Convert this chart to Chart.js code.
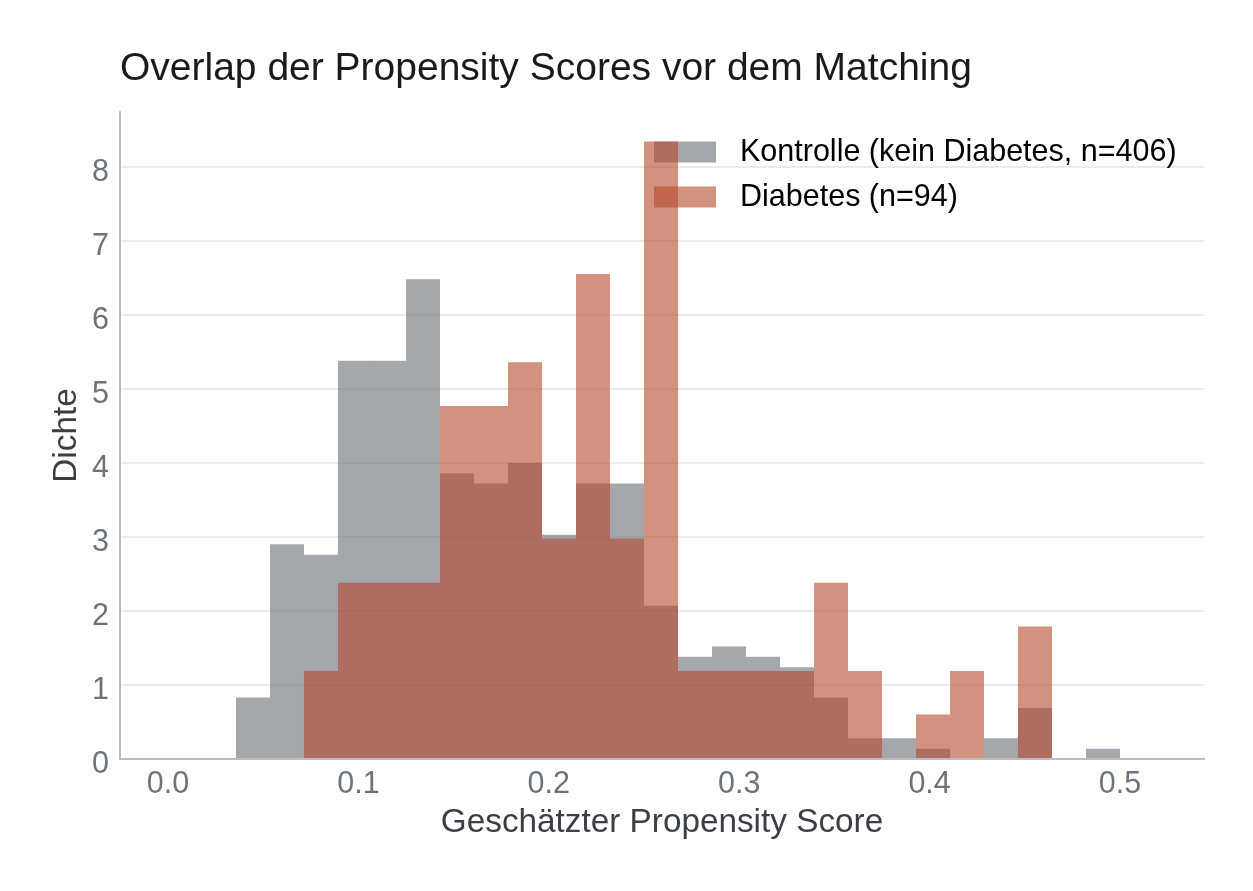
<!DOCTYPE html>
<html>
<head>
<meta charset="utf-8">
<script src="https://cdn.jsdelivr.net/npm/chart.js@4"></script>
<style>
  html, body { margin: 0; padding: 0; background: #fff; }
  #wrap { width: 1253px; height: 891px; }
</style>
</head>
<body>
<div id="wrap"><canvas id="histChart" width="1253" height="891"></canvas></div>
<script>
// bin centres (propensity score), bin width ~0.017857
var binCenters = [0.044643, 0.0625, 0.080357, 0.098214, 0.116071, 0.133929, 0.151786,
  0.169643, 0.1875, 0.205357, 0.223214, 0.241071, 0.258929, 0.276786, 0.294643,
  0.3125, 0.330357, 0.348214, 0.366071, 0.383929, 0.401786, 0.419643, 0.4375,
  0.455357, 0.473214, 0.491071];

// density, Kontrolle (n=406)
var kontrolle = [0.83, 2.90, 2.76, 5.38, 5.38, 6.48, 3.86, 3.72, 4.00, 3.03, 3.72, 3.72,
  2.07, 1.38, 1.52, 1.38, 1.24, 0.83, 0.28, 0.28, 0.14, 0.00, 0.28, 0.69, 0.00, 0.14];

// density, Diabetes (n=94)
var diabetes = [0.00, 0.00, 1.19, 2.38, 2.38, 2.38, 4.77, 4.77, 5.36, 2.98, 6.55, 2.98,
  8.34, 1.19, 1.19, 1.19, 1.19, 2.38, 1.19, 0.00, 0.60, 1.19, 0.00, 1.79, 0.00, 0.00];

var xTicks = [0.0, 0.1, 0.2, 0.3, 0.4, 0.5];
var yTicks = [0, 1, 2, 3, 4, 5, 6, 7, 8];

var labels = ['Kontrolle (kein Diabetes, n=406)', 'Diabetes (n=94)'];
var title = 'Overlap der Propensity Scores vor dem Matching';

var grayFill = 'rgba(103, 110, 118, 0.6)';
var redFill = 'rgba(182, 72, 43, 0.6)';
var fontFamily = '"Liberation Sans", Arial, Helvetica, sans-serif';

function toPoints(values) {
  return binCenters.map(function (c, i) { return { x: c, y: values[i] }; });
}

var titleLegendPlugin = {
  id: 'titleLegend',
  beforeDatasetsDraw: function (chart) {
    var ctx = chart.ctx;
    var area = chart.chartArea;
    ctx.save();
    // legend swatches + labels (sit underneath the bars)
    var fills = [grayFill, redFill];
    var x0 = area.right - 550;
    var rows = [area.top + 40, area.top + 85];
    ctx.font = '30.5px ' + fontFamily;
    ctx.textBaseline = 'middle';
    ctx.textAlign = 'left';
    for (var i = 0; i < labels.length; i++) {
      ctx.fillStyle = fills[i];
      ctx.fillRect(x0, rows[i] - 10.5, 62, 21);
      ctx.fillStyle = '#000';
      ctx.fillText(labels[i], x0 + 86, rows[i] + 1);
    }
    ctx.restore();
  },
  afterDraw: function (chart) {
    var ctx = chart.ctx;
    ctx.save();
    ctx.font = '39px ' + fontFamily;
    ctx.fillStyle = '#1a1a1a';
    ctx.textBaseline = 'alphabetic';
    ctx.textAlign = 'left';
    ctx.fillText(title, chart.chartArea.left, 80);
    ctx.restore();
  }
};

var ctx = document.getElementById('histChart').getContext('2d');
var histChart = new Chart(ctx, {
  type: 'bar',
  data: {
    datasets: [{
      label: labels[0],
      data: toPoints(kontrolle),
      backgroundColor: grayFill,
      borderWidth: 0,
      inflateAmount: 0,
      order: 2
    }, {
      label: labels[1],
      data: toPoints(diabetes),
      backgroundColor: redFill,
      borderWidth: 0,
      inflateAmount: 0,
      order: 1
    }]
  },
  options: {
    responsive: false,
    animation: false,
    devicePixelRatio: 1,
    layout: { padding: { top: 112, left: 0, right: 49, bottom: 0 } },
    datasets: { bar: { grouped: false, barPercentage: 1.0, categoryPercentage: 1.0 } },
    plugins: {
      legend: { display: false },
      title: { display: false },
      tooltip: { enabled: false }
    },
    scales: {
      x: {
        type: 'linear',
        offset: false,
        min: -0.0252101,
        max: 0.5441176,
        afterFit: function (s) { s.height = 132; },
        afterBuildTicks: function (s) {
          s.ticks = xTicks.map(function (v) { return { value: v }; });
        },
        ticks: {
          padding: 7,
          color: '#6c737b',
          font: { family: fontFamily, size: 30.5 },
          maxRotation: 0,
          callback: function (v) { return Number(v).toFixed(1); }
        },
        grid: { display: false, drawTicks: false },
        border: { display: true, color: '#b9bdc3', width: 2 },
        title: {
          display: true,
          text: 'Geschätzter Propensity Score',
          color: '#3b3f45',
          font: { family: fontFamily, size: 33.3 },
          padding: { top: 0, bottom: 48 }
        }
      },
      y: {
        min: 0,
        max: 8.74,
        afterFit: function (s) { s.width = 120; },
        afterBuildTicks: function (s) {
          s.ticks = yTicks.map(function (v) { return { value: v }; });
        },
        ticks: {
          padding: 11,
          labelOffset: 6,
          color: '#6c737b',
          font: { family: fontFamily, size: 30.5 }
        },
        grid: { color: '#ebebeb', lineWidth: 2, drawTicks: false },
        border: { display: true, color: '#b9bdc3', width: 2 },
        title: {
          display: true,
          text: 'Dichte',
          color: '#3b3f45',
          font: { family: fontFamily, size: 33.3 },
          padding: { top: 47, bottom: 0 }
        }
      }
    }
  },
  plugins: [titleLegendPlugin]
});
</script>
</body>
</html>
